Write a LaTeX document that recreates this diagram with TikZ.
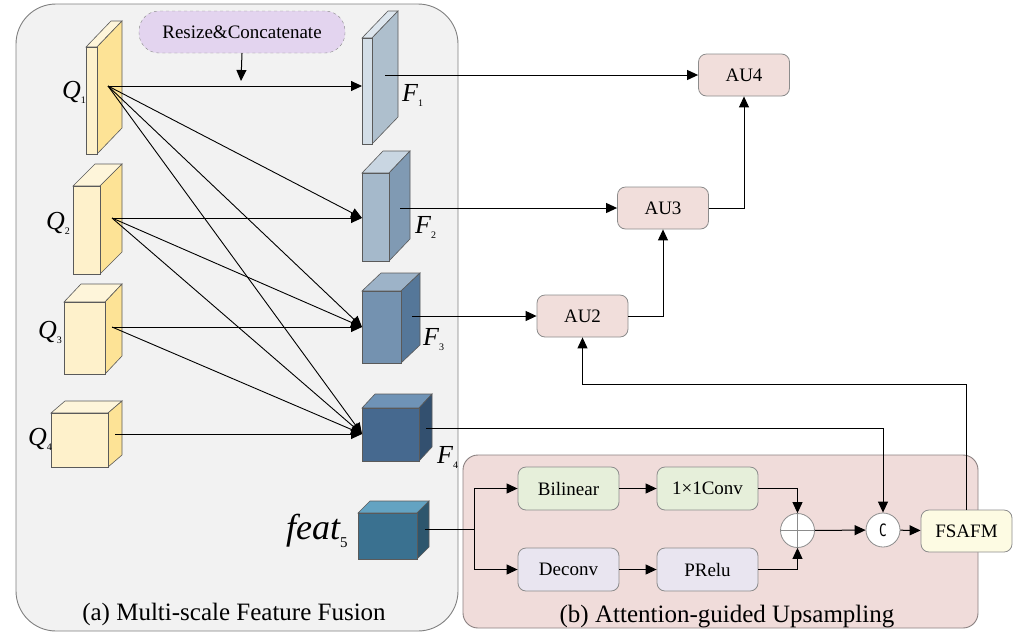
\documentclass[tikz,border=0pt]{standalone}
\usepackage{fontspec}
\setmainfont{LiberationSerif}[Extension=.ttf,UprightFont=*-Regular,ItalicFont=*-Italic,BoldFont=*-Bold,BoldItalicFont=*-BoldItalic]
\newfontfamily\cfont{DejaVu Sans Mono}
\usetikzlibrary{arrows.meta,calc}
\definecolor{panelAfill}{HTML}{F2F2F2}
\definecolor{panelAline}{HTML}{808080}
\definecolor{panelBfill}{HTML}{F0DCDA}
\definecolor{panelBline}{HTML}{8A8080}
\definecolor{rcfill}{HTML}{E3D4EF}
\definecolor{aufill}{HTML}{F1DEDB}
\definecolor{greenfill}{HTML}{E6EFDA}
\definecolor{lavfill}{HTML}{E9E5F0}
\definecolor{yelfill}{HTML}{FDFBE3}
\definecolor{boxline}{HTML}{8C8C8C}
\definecolor{cubeline}{HTML}{5A5A5A}
\definecolor{qfront}{HTML}{FEF1CB}
\definecolor{qside}{HTML}{FDE396}
\definecolor{qtop}{HTML}{FEF5DA}
\definecolor{fAfront}{HTML}{D3DEE7}
\definecolor{fAside}{HTML}{AEBFCD}
\definecolor{fAtop}{HTML}{DDE6EE}
\definecolor{fBfront}{HTML}{A5B9CB}
\definecolor{fBside}{HTML}{809AB3}
\definecolor{fBtop}{HTML}{C9D6E2}
\definecolor{fCfront}{HTML}{7492B0}
\definecolor{fCside}{HTML}{557799}
\definecolor{fCtop}{HTML}{9DB3C8}
\definecolor{fDfront}{HTML}{46698F}
\definecolor{fDside}{HTML}{33506F}
\definecolor{fDtop}{HTML}{6F93B6}
\definecolor{fEfront}{HTML}{3A7190}
\definecolor{fEside}{HTML}{2D566D}
\definecolor{fEtop}{HTML}{63A3C2}
\newcommand\cubeblk[9]{%
  \filldraw[fill=#9,draw=cubeline,line width=0.6pt] (#1,#2) -- ({#1+#5},{#2-#6}) -- ({#3+#5},{#2-#6}) -- (#3,#2) -- cycle;
  \filldraw[fill=#8,draw=cubeline,line width=0.6pt] (#3,#2) -- ({#3+#5},{#2-#6}) -- ({#3+#5},{#4-#6}) -- (#3,#4) -- cycle;
  \filldraw[fill=#7,draw=cubeline,line width=0.6pt] (#1,#2) rectangle (#3,#4);}
\newcommand\sublbl[2]{\raisebox{-#2}{\fontsize{10}{10}\selectfont\upshape #1}}
\begin{document}
\begin{tikzpicture}[x=1pt,y=-1pt,
  arr/.style={-{Triangle[length=11pt,width=10pt]},line width=1pt,black},
  qarr/.style={-{Triangle[length=11pt,width=10pt]},line width=0.9pt,black},
  box/.style={draw=boxline,line width=0.8pt,rounded corners=8pt,inner sep=0pt,
    minimum width=91pt,minimum height=42pt,font=\rmfamily\fontsize{19}{22}\selectfont},
  aubox/.style={box,fill=aufill},
  gbox/.style={box,fill=greenfill,minimum width=101pt,minimum height=43pt},
  lbox/.style={box,fill=lavfill,minimum width=101pt,minimum height=43pt},
  op/.style={circle,draw=boxline,line width=0.8pt,fill=white,minimum size=34pt,inner sep=0pt},
  lab/.style={anchor=base west,inner sep=0pt,font=\rmfamily\fontsize{26}{30}\selectfont\itshape},
  captxt/.style={font=\rmfamily\fontsize{25}{28}\selectfont}]
\useasboundingbox (0,0) rectangle (1026,633);

% panels
\filldraw[fill=panelAfill,draw=panelAline,line width=0.9pt,rounded corners=40pt] (16,4) rectangle (458,631);
\filldraw[fill=panelBfill,draw=panelBline,line width=0.9pt,rounded corners=15pt] (463,455) rectangle (978,628);

% resize node
\node[draw=boxline,dashed,fill=rcfill,rounded corners=20pt,minimum width=206pt,minimum height=42pt,
  inner sep=0pt,font=\rmfamily\fontsize{19}{22}\selectfont] (rc) at (242,32) {Resize\&Concatenate};
\coordinate (rcend) at (241,81);
\draw[arr] (rc.south) -- (rcend);

% cubes
\cubeblk{86}{47}{97}{154}{25}{26}{qfront}{qside}{qtop}
\cubeblk{73}{186}{100}{274}{22}{22}{qfront}{qside}{qtop}
\cubeblk{64}{302}{105}{374}{17}{18}{qfront}{qside}{qtop}
\cubeblk{51}{413}{108}{467}{14}{12}{qfront}{qside}{qtop}
\cubeblk{362}{38}{372}{144}{26}{27}{fAfront}{fAside}{fAtop}
\cubeblk{362}{173}{389}{261}{21}{22}{fBfront}{fBside}{fBtop}
\cubeblk{362}{291}{401}{363}{19}{18}{fCfront}{fCside}{fCtop}
\cubeblk{362}{408}{419}{461}{13}{14}{fDfront}{fDside}{fDtop}
\cubeblk{358}{513}{417}{559}{12}{12}{fEfront}{fEside}{fEtop}

% labels
\node[lab] (lQ1) at (62,98) {Q\sublbl{1}{5pt}};
\node[lab] (lQ2) at (46,229) {Q\sublbl{2}{5pt}};
\node[lab] (lQ3) at (38,338) {Q\sublbl{3}{5pt}};
\node[lab] (lQ4) at (28,445) {Q\sublbl{4}{5pt}};
\node[lab] (lF1) at (402,101) {F\sublbl{1}{5pt}};
\node[lab] (lF2) at (415,233) {F\sublbl{2}{5pt}};
\node[lab] (lF3) at (423,345) {F\sublbl{3}{5pt}};
\node[lab] (lF4) at (437,463) {F\sublbl{4}{5pt}};
\node[lab,font=\rmfamily\fontsize{36}{40}\selectfont\itshape] (lf5) at (286,539) {feat\raisebox{-8pt}{\fontsize{15}{15}\selectfont\upshape 5}};

% coordinates
\coordinate (Q1o) at (108,86);
\coordinate (Q2o) at (112,218);
\coordinate (Q3o) at (112,327);
\coordinate (Q4o) at (115,434);
\coordinate (F1i) at (362,86);
\coordinate (F2i) at (362,218);
\coordinate (F3i) at (362,327);
\coordinate (F4i) at (362,434);
\coordinate (F1o) at (385,75);
\coordinate (F2o) at (400,208);
\coordinate (F3o) at (412,316);
\coordinate (F4o) at (426,428);
\coordinate (f5o) at (425,529);
\coordinate (split) at (474,529);

\foreach \s/\t in {Q1o/F1i,Q1o/F2i,Q1o/F3i,Q1o/F4i,Q2o/F2i,Q2o/F3i,Q2o/F4i,Q3o/F3i,Q3o/F4i,Q4o/F4i}
  \draw[qarr] (\s) -- (\t);

% AU nodes
\node[aubox] (AU4) at (744,75) {AU4};
\node[aubox] (AU3) at (663,208) {AU3};
\node[aubox] (AU2) at (582.5,316) {AU2};

% panel b nodes
\node[gbox] (bil) at (568.5,488.5) {Bilinear};
\node[gbox] (conv) at (707.5,488.5) {1×1Conv};
\node[lbox] (dec) at (568.5,569.5) {Deconv};
\node[lbox] (prelu) at (707.5,569.5) {PRelu};
\node[op] (plus) at (797.5,530.5) {};
\draw[boxline,line width=0.8pt] (plus.north) -- (plus.south) (plus.west) -- (plus.east);
\node[op,font=\fontsize{17}{20}\cfont] (cat) at (883,530) {\scalebox{0.75}[1]{C}};
\node[box,fill=yelfill] (fsafm) at (966.5,531) {FSAFM};
\coordinate (fb) at (966.5,384);

% connectors
\draw[arr] (F1o) -- (AU4.west);
\draw[arr] (F2o) -- (AU3.west);
\draw[arr] (F3o) -- (AU2.west);
\draw[arr] (AU3.east) -| (AU4.south);
\draw[arr] (AU2.east) -| (AU3.south);
\draw[arr] (F4o) -| (cat.north);
\draw[arr] (fsafm.north) -- (fb) -| (AU2.south);
\draw[line width=1pt] (f5o) -- (split);
\draw[arr] (split) |- (bil.west);
\draw[arr] (split) |- (dec.west);
\draw[arr] (bil) -- (conv);
\draw[arr] (dec) -- (prelu);
\draw[arr] (conv.east) -| (plus.north);
\draw[arr] (prelu.east) -| (plus.south);
\draw[arr] (plus) -- (cat);
\draw[arr] (cat) -- (fsafm);

% captions
\node[captxt] (capA) at (234,614) {(a) Multi-scale Feature Fusion};
\node[captxt] (capB) at (727,617) {(b) Attention-guided Upsampling};
\end{tikzpicture}
\end{document}
